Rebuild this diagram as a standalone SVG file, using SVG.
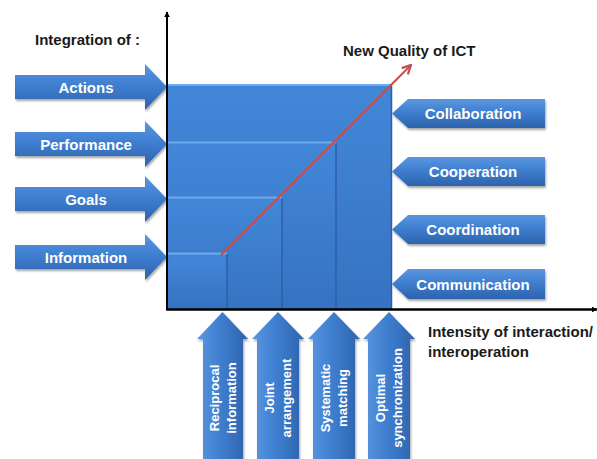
<svg xmlns="http://www.w3.org/2000/svg" width="597" height="459" viewBox="0 0 597 459">
<defs>
<linearGradient id="gH" x1="0" y1="0" x2="0" y2="1">
<stop offset="0" stop-color="#5b97e0"/>
<stop offset="0.45" stop-color="#3f7fd0"/>
<stop offset="1" stop-color="#2d63ad"/>
</linearGradient>
<linearGradient id="gV" x1="0" y1="0" x2="1" y2="0">
<stop offset="0" stop-color="#5b97e0"/>
<stop offset="0.45" stop-color="#3f7fd0"/>
<stop offset="1" stop-color="#2d63ad"/>
</linearGradient>
<linearGradient id="gBox" x1="0" y1="0" x2="0" y2="1">
<stop offset="0" stop-color="#4387d8"/>
<stop offset="1" stop-color="#3672c2"/>
</linearGradient>
<filter id="sh" x="-10%" y="-20%" width="130%" height="150%">
<feDropShadow dx="1" dy="2" stdDeviation="1.2" flood-color="#000" flood-opacity="0.35"/>
</filter>
<marker id="axisHead" viewBox="0 0 10 10" refX="9" refY="5" markerWidth="6" markerHeight="6" orient="auto" markerUnits="userSpaceOnUse">
<path d="M0,0 L10,5 L0,10 Z" fill="#000"/>
</marker>
<marker id="redHead" viewBox="0 0 10 10" refX="9" refY="5" markerWidth="11" markerHeight="11" orient="auto" markerUnits="userSpaceOnUse">
<path d="M1,1 L9,5 L1,9" fill="none" stroke="#c0504d" stroke-width="2" stroke-linejoin="miter"/>
</marker>
</defs>
<style>
.arrH { fill: url(#gH); filter: url(#sh); }
.arrV { fill: url(#gV); filter: url(#sh); }
.lbl { font-family: "Liberation Sans", Arial, sans-serif; font-weight: bold; font-size: 15px; fill: #ffffff; text-anchor: middle; }
.vlbl { font-family: "Liberation Sans", Arial, sans-serif; font-weight: bold; font-size: 13px; fill: #ffffff; text-anchor: middle; }
.title { font-family: "Liberation Sans", Arial, sans-serif; font-weight: bold; font-size: 15px; fill: #1a1a1a; }
.step { fill: url(#gBox); }
.hl { stroke: #6eaaf0; stroke-width: 2; }
.vl { stroke: #2c5fa6; stroke-width: 1.5; }
</style>
<rect width="597" height="459" fill="#ffffff"/>

<g id="chart-area">
<rect class="step" x="167" y="84" width="225" height="225"/>
<rect class="step" x="167" y="142" width="169" height="167"/>
<rect class="step" x="167" y="197" width="115" height="112"/>
<rect class="step" x="167" y="253" width="60" height="56"/>
<line class="hl" x1="167" y1="85" x2="392" y2="85"/>
<line class="hl" x1="167" y1="142.5" x2="336" y2="142.5"/>
<line class="hl" x1="167" y1="197.5" x2="282" y2="197.5"/>
<line class="hl" x1="167" y1="253.5" x2="227" y2="253.5"/>
<line class="vl" x1="227" y1="254" x2="227" y2="309"/>
<line class="vl" x1="282" y1="198" x2="282" y2="309"/>
<line class="vl" x1="336" y1="143" x2="336" y2="309"/>
<line class="vl" x1="391.5" y1="85" x2="391.5" y2="309"/>
</g>

<g id="title-integration"><text class="title" x="35" y="45">Integration of :</text></g>
<g id="title-quality"><text class="title" x="343" y="56">New Quality of ICT</text></g>
<g id="title-intensity">
<text class="title" x="428" y="337">Intensity of interaction/</text>
<text class="title" x="428" y="357">interoperation</text>
</g>

<g id="in-actions"><path class="arrH" d="M15,75 H145 V64 L167,87 L145,110 V99 H15 Z"/><text class="lbl" x="86" y="92.5">Actions</text></g>
<g id="in-performance"><path class="arrH" d="M15,132 H145 V121 L167,144 L145,167 V156 H15 Z"/><text class="lbl" x="86" y="149.5">Performance</text></g>
<g id="in-goals"><path class="arrH" d="M15,187 H145 V176 L167,199 L145,222 V211 H15 Z"/><text class="lbl" x="86" y="204.5">Goals</text></g>
<g id="in-information"><path class="arrH" d="M15,245 H145 V234 L167,257 L145,280 V269 H15 Z"/><text class="lbl" x="86" y="262.5">Information</text></g>

<g id="out-collaboration"><path class="arrH" d="M408,99 H545 V128 H408 L392,113.5 Z"/><text class="lbl" x="473" y="119">Collaboration</text></g>
<g id="out-cooperation"><path class="arrH" d="M408,157 H545 V186 H408 L392,171.5 Z"/><text class="lbl" x="473" y="177">Cooperation</text></g>
<g id="out-coordination"><path class="arrH" d="M408,215 H545 V244 H408 L392,229.5 Z"/><text class="lbl" x="473" y="235">Coordination</text></g>
<g id="out-communication"><path class="arrH" d="M408,269 H545 V299 H408 L392,284 Z"/><text class="lbl" x="473" y="289.5">Communication</text></g>

<g id="up-reciprocal"><path class="arrV" d="M203,459 V339 H197 L222.5,312 L248,339 H243 V459 Z"/>
<text class="vlbl" transform="translate(218.5,398) rotate(-90)">Reciprocal</text>
<text class="vlbl" transform="translate(235.5,398) rotate(-90)">information</text></g>
<g id="up-joint"><path class="arrV" d="M257,459 V339 H252 L278,312 L304,339 H299 V459 Z"/>
<text class="vlbl" transform="translate(274,398) rotate(-90)">Joint</text>
<text class="vlbl" transform="translate(291,398) rotate(-90)">arrangement</text></g>
<g id="up-systematic"><path class="arrV" d="M313,459 V339 H308 L334,312 L360,339 H355 V459 Z"/>
<text class="vlbl" transform="translate(329.5,398) rotate(-90)">Systematic</text>
<text class="vlbl" transform="translate(346.5,398) rotate(-90)">matching</text></g>
<g id="up-optimal"><path class="arrV" d="M368,459 V339 H363 L389,312 L415,339 H410 V459 Z"/>
<text class="vlbl" transform="translate(384.5,398) rotate(-90)">Optimal</text>
<text class="vlbl" transform="translate(401.5,398) rotate(-90)">synchronization</text></g>

<g id="connectors">
<line x1="167" y1="310" x2="167" y2="12" stroke="#000" stroke-width="2" marker-end="url(#axisHead)"/>
<line x1="166" y1="309.5" x2="597" y2="309.5" stroke="#000" stroke-width="2.5" marker-end="url(#axisHead)"/>
<line x1="221" y1="255" x2="411" y2="65" stroke="#c0504d" stroke-width="2" marker-end="url(#redHead)"/>
</g>
</svg>
